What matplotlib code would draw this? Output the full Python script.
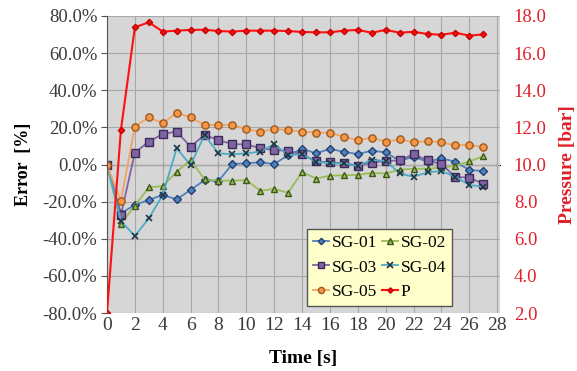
import numpy as np
import matplotlib
matplotlib.use('Agg')
import matplotlib.pyplot as plt
from matplotlib.ticker import FuncFormatter

plt.rcParams['font.family'] = ['Liberation Serif', 'DejaVu Serif']

# time [s]
t = list(range(28))

# strain gauge errors [%]
sg01 = [0, -26.3, -21.8, -19.1, -16.4, -18.8, -13.7, -8.4, -8.9, 0.3, 0.6, 1.2, 0.3, 5.0,
        8.5, 6.0, 8.4, 6.8, 5.6, 7.5, 6.5, 2.0, 4.2, 1.5, 3.3, 1.5, -3.0, -3.5]
sg02 = [0, -32.0, -22.2, -12.3, -11.6, -3.9, 2.4, -8.0, -8.7, -8.7, -8.4, -14.1, -13.2, -15.2,
        -4.0, -7.6, -6.0, -5.8, -5.6, -4.5, -4.9, -2.7, -2.3, -2.3, -1.6, -0.7, 1.7, 4.4]
sg03 = [0, -27.2, 6.4, 12.3, 16.4, 17.7, 9.6, 15.9, 13.2, 10.9, 10.9, 8.7, 7.8, 7.3,
        5.5, 1.7, 1.1, 0.6, -0.6, 1.0, 1.9, 2.2, 5.6, 2.2, 0.2, -6.7, -7.1, -10.4]
sg04 = [0, -30.5, -38.5, -29.0, -16.4, 8.7, -0.3, 15.9, 6.0, 5.5, 6.0, 6.9, 11.0, 5.0,
        5.5, 1.5, 0.6, 0.6, -0.6, 2.4, 2.0, -4.8, -6.6, -4.2, -3.5, -6.6, -11.0, -12.0]
sg05 = [0, -19.5, 20.4, 25.4, 22.2, 27.9, 25.4, 21.3, 21.3, 21.5, 19.0, 17.7, 19.0, 18.6,
        17.7, 17.2, 17.0, 15.0, 13.0, 14.5, 12.3, 13.5, 12.0, 12.6, 12.0, 10.3, 10.7, 9.2]

# pressure [bar]
p = [2.0, 11.86, 17.39, 17.66, 17.16, 17.21, 17.25, 17.26, 17.19, 17.16, 17.21, 17.21, 17.21, 17.19,
     17.14, 17.12, 17.12, 17.21, 17.25, 17.10, 17.25, 17.10, 17.15, 17.03, 16.99, 17.10, 16.94, 17.01]

fig = plt.figure(figsize=(5.77, 3.71), dpi=100)
ax = fig.add_axes([0.1854, 0.1563, 0.6811, 0.8006])
ax.set_facecolor('#d6d6d6')

l1, = ax.plot(t, sg01, '-D', color='#4f81bd', mfc='#4f81bd', mec='#24406e', ms=3.8, lw=1.3, label='SG-01')
l2, = ax.plot(t, sg02, '-^', color='#9bbb59', mfc='#9bbb59', mec='#3d5a1c', ms=5, lw=1.3, label='SG-02')
l3, = ax.plot(t, sg03, '-s', color='#8064a2', mfc='#8064a2', mec='#3c2b5a', ms=5.2, lw=1.3, label='SG-03')
l4, = ax.plot(t, sg04, '-x', color='#4bacc6', mec='#1d3440', ms=4.5, mew=1.2, lw=1.3, label='SG-04')
l5, = ax.plot(t, sg05, '-o', color='#f4a460', mfc='#f79646', mec='#9c5a1d', ms=5.2, lw=1.3, label='SG-05')

ax.set_xlim(0, 28.2)
ax.set_ylim(-80, 80)
ax.set_xticks(range(0, 29, 2))
ax.set_yticks(range(-80, 81, 20))
ax.yaxis.set_major_formatter(FuncFormatter(lambda v, pos: '%.1f%%' % v))
ax.grid(True, color='#a8a8a8', lw=0.8)
ax.set_axisbelow(True)
for s in ['top', 'right', 'bottom']:
    ax.spines[s].set_visible(False)
ax.spines['left'].set_color('#555555')
ax.tick_params(axis='y', direction='out', length=4, color='#555555', labelsize=13.5,
               labelcolor='#3a3a3a', pad=3)
ax.tick_params(axis='x', length=0, labelsize=14, labelcolor='#3a3a3a', pad=3)

# axis line through zero with small ticks
zero = ax.secondary_xaxis(0.5)
zero.set_xticks(range(0, 29, 2))
zero.xaxis.set_ticklabels([])
zero.tick_params(direction='inout', length=5, color='#444444')
zero.spines['bottom'].set_color('#444444')
zero.spines['bottom'].set_linewidth(1.2)

ax.set_xlabel('Time [s]', fontsize=14, fontweight='bold')
ax.xaxis.set_label_coords(0.5, -0.125)
ax.set_ylabel('Error  [%]', fontsize=13, fontweight='bold')
ax.yaxis.set_label_coords(-0.19, 0.5)

ax2 = ax.twinx()
l6, = ax2.plot(t, p, '-D', color='#ff1010', mfc='#ee1111', mec='#cc0000', ms=3.2, lw=1.5, label='P')
ax2.set_ylim(2, 18)
ax2.set_yticks(range(2, 19, 2))
ax2.yaxis.set_major_formatter(FuncFormatter(lambda v, pos: '%.1f' % v))
for s in ax2.spines.values():
    s.set_visible(False)
ax2.tick_params(axis='y', length=0, labelsize=13.5, labelcolor='#e0202a', pad=10)
ax2.set_ylabel('Pressure [bar]', fontsize=14, fontweight='bold', color='#e0202a')
ax2.yaxis.set_label_coords(1.15, 0.5)

leg = ax2.legend([l1, l3, l5, l2, l4, l6], ['SG-01', 'SG-03', 'SG-05', 'SG-02', 'SG-04', 'P'],
                 ncol=2, loc='lower left', bbox_to_anchor=(0.51, 0.022),
                 fontsize=12.5, frameon=True, fancybox=False, handlelength=0.9,
                 handletextpad=0.15, columnspacing=0.3, labelspacing=0.5,
                 borderpad=0.35, borderaxespad=0, markerscale=0.85)
leg.get_frame().set_facecolor('#ffffcc')
leg.get_frame().set_edgecolor('#555555')
leg.get_frame().set_alpha(1)

fig.savefig('out.png', dpi=100)
